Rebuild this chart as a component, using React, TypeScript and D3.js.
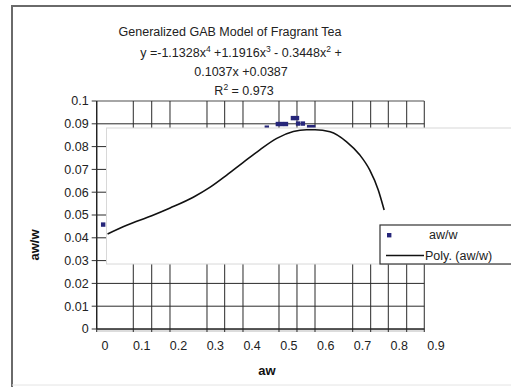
import * as d3 from "d3";

// tick labels
const X_TICKS = [0, 0.1, 0.2, 0.3, 0.4, 0.5, 0.6, 0.7, 0.8, 0.9];
const Y_TICKS = [0, 0.01, 0.02, 0.03, 0.04, 0.05, 0.06, 0.07, 0.08, 0.09, 0.1];
// vertical gridlines as drawn in the picture (data units)
const GRID_X = [-0.0226, 0.0769, 0.127, 0.1767, 0.2773, 0.3254, 0.3752, 0.4731, 0.522, 0.571, 0.6735, 0.7224, 0.7703, 0.8203, 0.8681];

// measured points (aw, aw/w), only those not hidden
const PTS_X = [-0.005, 0.44, 0.47, 0.481, 0.492, 0.511, 0.522, 0.525, 0.538, 0.555, 0.566];
const PTS_Y = [0.0458, 0.0883, 0.0899, 0.0899, 0.0899, 0.0925, 0.0925, 0.0901, 0.0901, 0.0885, 0.0885];

// polynomial trend line
const FIT_X = [0.007, 0.059, 0.127, 0.177, 0.24, 0.286, 0.331, 0.376, 0.421, 0.467, 0.512, 0.548, 0.571, 0.612, 0.657, 0.693, 0.72, 0.743, 0.759];
const FIT_Y = [0.0417, 0.0455, 0.0497, 0.0531, 0.0578, 0.0622, 0.0675, 0.0731, 0.0786, 0.0836, 0.0866, 0.0874, 0.0874, 0.0865, 0.0821, 0.0763, 0.0697, 0.061, 0.0522];

const FONT = "'Liberation Sans', Arial, sans-serif";

export default function App() {
  const width = 511;
  const height = 387;
  const x = d3.scaleLinear().domain([0, 0.9]).range([105, 436]);
  const y = d3.scaleLinear().domain([0, 0.1]).range([329, 101]);
  const left = x(GRID_X[0]);
  const right = x(GRID_X[GRID_X.length - 1]);

  const fit = FIT_X.map((v, i) => [v, FIT_Y[i]] as [number, number]);
  const line = d3.line<[number, number]>()
    .x(d => x(d[0]))
    .y(d => y(d[1]))
    .curve(d3.curveMonotoneX);

  const sup = (s: string) => <tspan baselineShift="super" fontSize="8.5">{s}</tspan>;

  return (
    <svg width={width} height={height} style={{ position: "absolute", left: 0, top: 0 }} fontFamily={FONT}>
      <rect width={width} height={height} fill="white" />
      {/* outer frame */}
      <path d="M12,387V6H511" fill="none" stroke="#6a6a6a" strokeWidth={2} />
      <line x1={12} x2={511} y1={385} y2={385} stroke="#e4e4e4" />

      {/* title */}
      <g fontSize="12.5" fill="#222" textAnchor="middle">
        <text x={230} y={36}>Generalized GAB Model of Fragrant Tea</text>
        <text x={241} y={57}>y =-1.1328x{sup("4")} +1.1916x{sup("3")} - 0.3448x{sup("2")} +</text>
        <text x={241} y={76}>0.1037x +0.0387</text>
        <text x={244} y={95}>R{sup("2")} = 0.973</text>
      </g>

      {/* band under the axis */}
      <rect x={left} y={y(0)} width={right - left} height={3} fill="#dcdcdc" />

      {/* gridlines */}
      {Y_TICKS.filter(t => t > 0).map(t => (
        <line key={"h" + t} x1={left} x2={right} y1={y(t)} y2={y(t)}
          stroke={t === 0.1 ? "#888" : "#2a2a2a"} strokeWidth={t === 0.1 ? 1.6 : 1} />
      ))}
      {GRID_X.map(g => (
        <line key={"v" + g} x1={x(g)} x2={x(g)} y1={y(0.1)} y2={y(0) + 3} stroke="#2a2a2a" strokeWidth={1} />
      ))}
      <line x1={left} x2={right} y1={y(0)} y2={y(0)} stroke="#222" strokeWidth={1.3} />
      <line x1={left} x2={left} y1={y(0.1)} y2={y(0)} stroke="#222" strokeWidth={1.3} />

      {/* y ticks */}
      {Y_TICKS.map(t => (
        <g key={"yt" + t}>
          <line x1={left - 5} x2={left} y1={y(t)} y2={y(t)} stroke="#333" />
          <text x={left - 8} y={y(t)} dy="0.35em" fontSize="12.5" textAnchor="end" fill="#222">{t === 0 ? "0" : String(t)}</text>
        </g>
      ))}
      {/* x tick labels */}
      {X_TICKS.map(t => (
        <text key={"xt" + t} x={x(t)} y={350} fontSize="12.5" textAnchor="middle" fill="#222">{String(t)}</text>
      ))}

      {/* axis titles */}
      <text x={267} y={375} fontSize="13" fontWeight="bold" textAnchor="middle" fill="#111">aw</text>
      <text transform="translate(39,245) rotate(-90)" fontSize="13" fontWeight="bold" textAnchor="middle" fill="#111">aw/w</text>

      {/* points */}
      {PTS_X.map((v, i) => (
        <rect key={"p" + i} x={x(v) - 2.2} y={y(PTS_Y[i]) - 2.2} width={4.4} height={4.4} fill="#26267a" />
      ))}

      {/* overlapping inner panel */}
      <rect x={106.5} y={128} width={430} height={136} fill="white" stroke="#d8d8d8" strokeWidth={1} />

      {/* trend line */}
      <path d={line(fit) ?? ""} fill="none" stroke="#111" strokeWidth={1.6} />

      {/* legend */}
      <g>
        <rect x={380} y={225} width={150} height={39} fill="white" stroke="#333" strokeWidth={1.2} />
        <rect x={387} y={233} width={4.4} height={4.4} fill="#26267a" />
        <text x={429} y={235} dy="0.35em" fontSize="12.5" fill="#222">aw/w</text>
        <line x1={386} x2={424} y1={255.5} y2={255.5} stroke="#111" strokeWidth={1.5} />
        <text x={425} y={255.5} dy="0.35em" fontSize="12.5" fill="#222">Poly. (aw/w)</text>
      </g>
    </svg>
  );
}
